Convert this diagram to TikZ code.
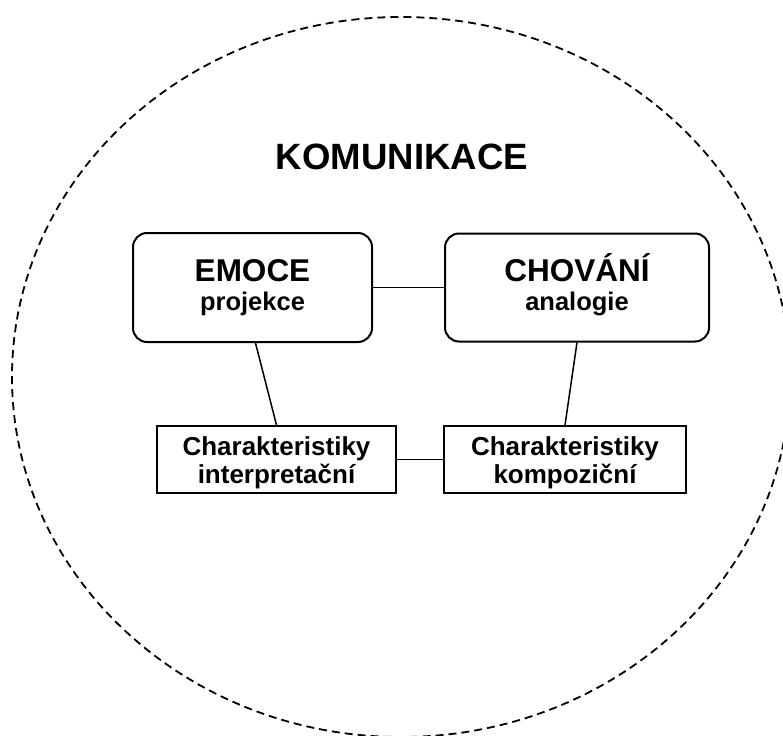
\documentclass[tikz,border=0pt]{standalone}
\usepackage{fontspec}
\setmainfont{Liberation Sans}
\begin{document}
\begin{tikzpicture}[x=1pt,y=-1pt,
  roundbox/.style={draw, line width=2pt, rounded corners=14pt, inner sep=0pt},
  plainbox/.style={draw, line width=1.8pt, inner sep=0pt},
  bigtext/.style={align=center, inner sep=0pt, font=\bfseries\fontsize{25.5}{29}\selectfont},
  smalltext/.style={align=center, inner sep=0pt, font=\bfseries\fontsize{26}{28}\selectfont},
  link/.style={line width=1.5pt}]
\useasboundingbox (0,0) rectangle (783,735);
% dashed outer boundary, partly cut by the page edge
\begin{scope}
  \clip (0,0) rectangle (783,735);
  \draw[line width=1.8pt, dash pattern=on 8pt off 5pt]
    (401,377) ellipse [x radius=389, y radius=360];
\end{scope}

\node[font=\bfseries\fontsize{36.6}{40}\selectfont] (title) at (402,157) {KOMUNIKACE};

% upper boxes
\node[roundbox, minimum width=239pt, minimum height=109pt] (emoce) at (252.5,287.5) {};
\node[roundbox, minimum width=264pt, minimum height=108pt] (chovani) at (577,287.5) {};
\node[bigtext] (emoceText) at (emoce.center)
  {{\fontsize{31.5}{31.5}\selectfont EMOCE}\\projekce};
\node[bigtext] (chovaniText) at ([yshift=3pt]chovani.center)
  {{\fontsize{31.5}{31.5}\selectfont CHOVÁNÍ}\\analogie};

% lower boxes
\node[plainbox, minimum width=239pt, minimum height=67pt] (interp) at (276.5,459.5) {};
\node[plainbox, minimum width=242pt, minimum height=67pt] (kompo) at (565,459.5) {};
\node[smalltext] (interpText) at ([yshift=-3pt]interp.center)
  {Charakteristiky\\interpretační};
\node[smalltext] (kompoText) at ([yshift=-3pt]kompo.center)
  {Charakteristiky\\kompoziční};

\draw[link] (emoce.east) -- (chovani.west);
\draw[link] (interp.east) -- (kompo.west);
\draw[link] ([xshift=3pt]emoce.south) -- (interp.north);
\draw[link] (chovani.south) -- (kompo.north);
\end{tikzpicture}
\end{document}
